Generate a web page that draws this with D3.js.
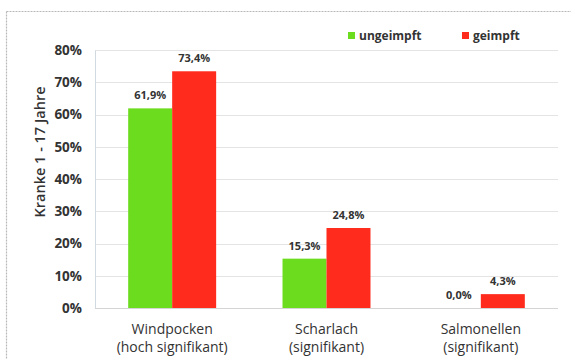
<!DOCTYPE html>
<html>
<head>
<meta charset="utf-8">
<script src="https://cdn.jsdelivr.net/npm/d3@7"></script>
<style>
  html, body { margin: 0; padding: 0; background: #fff; }
  svg { display: block; }
  text { font-family: "Open Sans", "Lato", sans-serif; fill: #333; }
</style>
</head>
<body>
<script>
// Disease categories (two-line labels)
const categories = ["Windpocken", "Scharlach", "Salmonellen"];
const categoryNotes = ["(hoch signifikant)", "(signifikant)", "(signifikant)"];
// Share of sick children, in percent
const series = ["ungeimpft", "geimpft"];
const ungeimpft = [61.9, 15.3, 0.0];
const geimpft = [73.4, 24.8, 4.3];
const yTicks = [0, 10, 20, 30, 40, 50, 60, 70, 80];
const colors = ["#6cdc1f", "#ff2b1c"];

const W = 571, H = 359;
const margin = { left: 95, right: 13, top: 50, bottom: 51 };

const svg = d3.select("body").append("svg").attr("width", W).attr("height", H);

// outer frame (dotted grey edges)
svg.append("line").attr("x1", 6.5).attr("x2", W).attr("y1", 11.5).attr("y2", 11.5)
  .attr("stroke", "#b8b8b8").attr("stroke-width", 1.2).attr("stroke-dasharray", "2,1");
svg.append("line").attr("x1", 6.5).attr("x2", 6.5).attr("y1", 11.5).attr("y2", H)
  .attr("stroke", "#b8b8b8").attr("stroke-width", 1.2).attr("stroke-dasharray", "2,1");

const x0 = d3.scaleBand().domain(categories)
  .range([margin.left, W - margin.right]).paddingInner(0.43).paddingOuter(0.215);
const x1 = d3.scaleBand().domain(series).range([0, x0.bandwidth()]);
const y = d3.scaleLinear().domain([0, 80]).range([H - margin.bottom, margin.top]);

// gridlines
svg.append("g").selectAll("line").data(yTicks.filter(d => d > 0)).join("line")
  .attr("x1", margin.left).attr("x2", W - margin.right)
  .attr("y1", d => Math.round(y(d)) + 0.5).attr("y2", d => Math.round(y(d)) + 0.5)
  .attr("stroke", "#e4e4e4").attr("stroke-width", 1);

// y axis
const yAxis = d3.axisLeft(y).tickValues(yTicks).tickFormat(d => d + "%").tickSize(0).tickPadding(13);
const gy = svg.append("g").attr("transform", `translate(${margin.left},0)`).call(yAxis);
gy.select(".domain").attr("stroke", "#d0dae0");
gy.selectAll("text").style("font-family", "'Open Sans', sans-serif")
  .style("font-size", "13.5px").style("font-weight", "bold").attr("fill", "#3a3a3a");

// bars
const rows = categories.map((c, i) => ({ cat: c, vals: [ungeimpft[i], geimpft[i]] }));
const groups = svg.append("g").selectAll("g").data(rows).join("g")
  .attr("transform", d => `translate(${x0(d.cat)},0)`);
groups.selectAll("rect").data(d => d.vals.map((v, j) => ({ v, s: series[j], j }))).join("rect")
  .attr("x", d => x1(d.s)).attr("width", x1.bandwidth())
  .attr("y", d => y(d.v)).attr("height", d => y(0) - y(d.v))
  .attr("fill", d => colors[d.j]);

// value labels
groups.selectAll("text.val").data(d => d.vals.map((v, j) => ({ v, s: series[j], j }))).join("text")
  .attr("class", "val")
  .attr("x", d => x1(d.s) + x1.bandwidth() / 2)
  .attr("y", d => y(d.v) - 9)
  .attr("text-anchor", "middle")
  .style("font-size", "11px").style("font-weight", "bold").attr("fill", "#3a3a3a")
  .text(d => d.v.toFixed(1).replace(".", ",") + "%");

// x axis baseline
svg.append("line").attr("x1", margin.left).attr("x2", W - margin.right)
  .attr("y1", y(0) + 0.5).attr("y2", y(0) + 0.5).attr("stroke", "#d4d4d4");

// category labels
const gx = svg.append("g");
categories.forEach((c, i) => {
  const cx = x0(c) + x0.bandwidth() / 2;
  gx.append("text").attr("x", cx).attr("y", 334).attr("text-anchor", "middle")
    .style("font-size", "14px").attr("fill", "#2a2a2a").text(c);
  gx.append("text").attr("x", cx).attr("y", 352).attr("text-anchor", "middle")
    .style("font-size", "14px").attr("fill", "#2a2a2a").text(categoryNotes[i]);
});

// y axis title
svg.append("text").attr("transform", "translate(45,152) rotate(-90)")
  .attr("text-anchor", "middle").style("font-size", "14.5px").style("font-weight", "600")
  .attr("fill", "#2a2a2a").text("Kranke 1 - 17 Jahre");

// legend
const legend = svg.append("g");
const legendX = [348, 462];
series.forEach((s, i) => {
  legend.append("rect").attr("x", legendX[i]).attr("y", 32).attr("width", 7).attr("height", 7)
    .attr("fill", colors[i]);
  legend.append("text").attr("x", legendX[i] + 11).attr("y", 40)
    .style("font-size", "12px").style("font-weight", "bold").attr("fill", "#2a2a2a").text(s);
});
</script>
</body>
</html>
